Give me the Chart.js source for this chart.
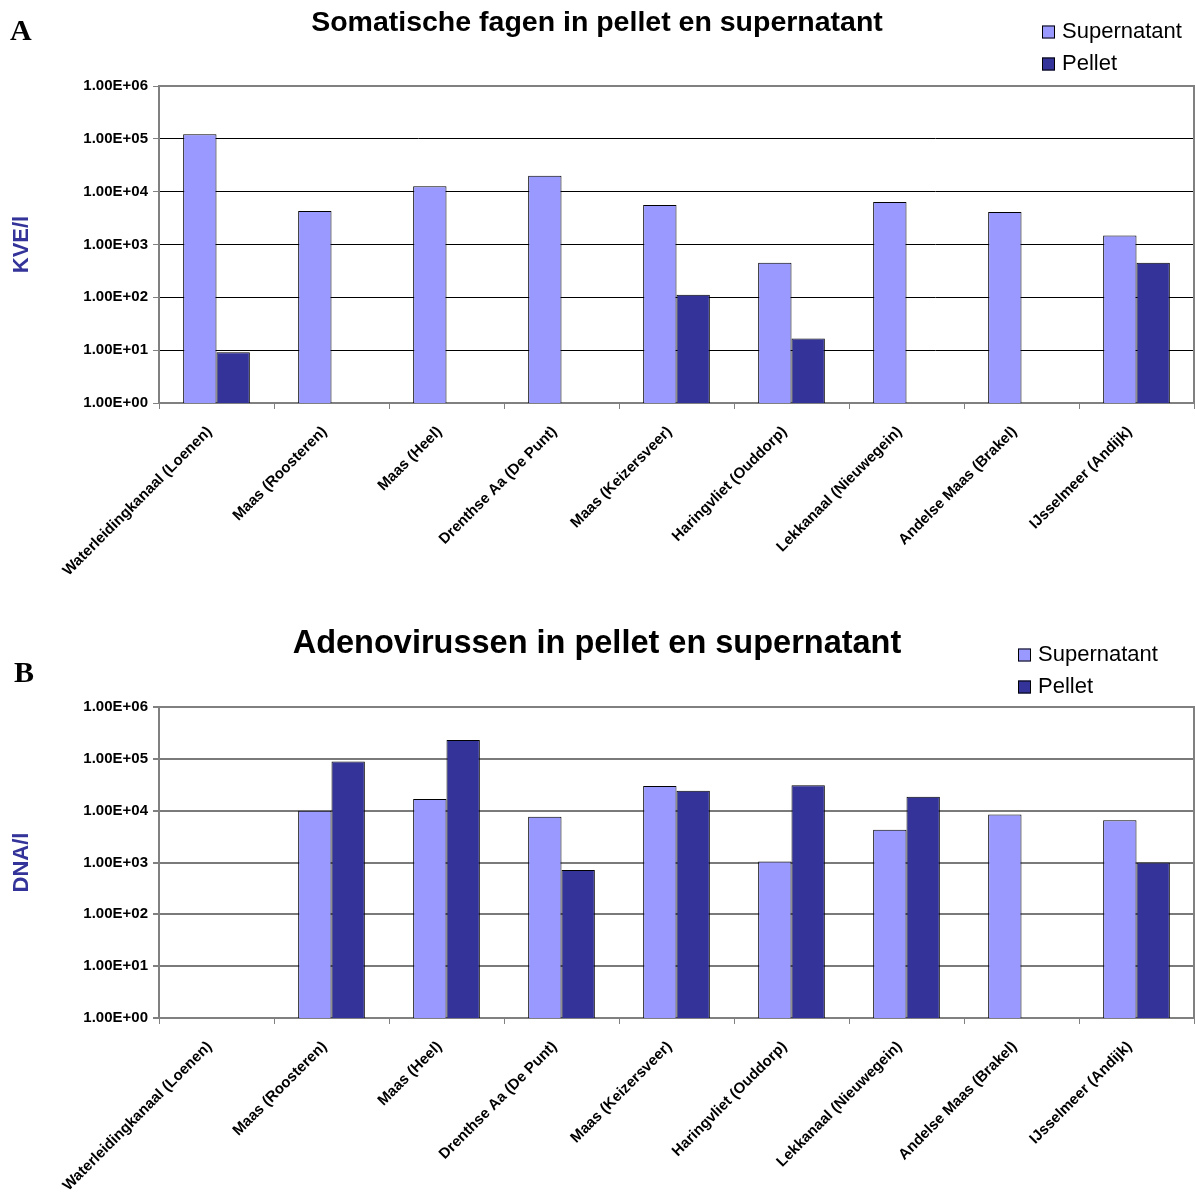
<!DOCTYPE html>
<html>
<head>
<meta charset="utf-8">
<script src="https://cdn.jsdelivr.net/npm/chart.js@4/dist/chart.umd.min.js"></script>
<style>
  html, body { margin: 0; padding: 0; background: #fff; }
  .panel { position: absolute; left: 0; width: 1195px; height: 598px; }
  #pa { top: 0; }
  #pb { top: 598px; }
</style>
</head>
<body>
<div class="panel" id="pa"><canvas id="chartA" width="1195" height="598"></canvas></div>
<div class="panel" id="pb"><canvas id="chartB" width="1195" height="598"></canvas></div>
<script>
// Sampling locations
const sites = [
  'Waterleidingkanaal (Loenen)', 'Maas (Roosteren)', 'Maas (Heel)',
  'Drenthse Aa (De Punt)', 'Maas (Keizersveer)', 'Haringvliet (Ouddorp)',
  'Lekkanaal (Nieuwegein)', 'Andelse Maas (Brakel)', 'IJsselmeer (Andijk)'
];
const seriesNames = ['Supernatant', 'Pellet'];

// Somatic phages (KVE/l)
const phageSupernatant = [1.22e5, 4.3e3, 1.27e4, 2.0e4, 5.6e3, 450, 6.4e3, 4.1e3, 1.48e3];
const phagePellet      = [9.1, null, null, null, 112, 16.6, null, null, 450];

// Adenoviruses (DNA/l)
const adenoSupernatant = [null, 1.0e4, 1.67e4, 7.6e3, 2.98e4, 1.04e3, 4.3e3, 8.4e3, 6.5e3];
const adenoPellet      = [null, 8.9e4, 2.3e5, 720, 2.42e4, 3.1e4, 1.85e4, null, 1.0e3];

// Decade ticks of the log axis
const yTickValues = [1, 10, 100, 1e3, 1e4, 1e5, 1e6];
const yTickLabels = ['1.00E+00', '1.00E+01', '1.00E+02', '1.00E+03', '1.00E+04', '1.00E+05', '1.00E+06'];

const SANS = '"Liberation Sans", Arial, Helvetica, sans-serif';
const SERIF = '"Liberation Serif", "Times New Roman", serif';
const colSuper = '#9999FF';
const colPellet = '#333399';
const axisGray = '#808080';

// Gray frame on the top and right side of the plot area
const frame = {
  id: 'frame',
  afterDatasetsDraw(chart, args, o) {
    const { ctx, chartArea: a } = chart;
    ctx.save();
    ctx.strokeStyle = o.color;
    ctx.lineWidth = o.width;
    ctx.beginPath();
    ctx.moveTo(a.left, a.top);
    ctx.lineTo(a.right, a.top);
    ctx.lineTo(a.right, a.bottom);
    ctx.stroke();
    ctx.restore();
  }
};

// Stacked legend at the upper right
const stackLegend = {
  id: 'stackLegend',
  afterDraw(chart, args, o) {
    const ctx = chart.ctx;
    ctx.save();
    ctx.font = o.font;
    ctx.textBaseline = 'middle';
    ctx.textAlign = 'left';
    chart.data.datasets.forEach((ds, i) => {
      const cy = o.y + i * o.gap;
      ctx.fillStyle = ds.backgroundColor;
      ctx.fillRect(o.x, cy - o.box / 2, o.box, o.box);
      ctx.strokeStyle = '#000';
      ctx.lineWidth = 1;
      ctx.strokeRect(o.x + 0.5, cy - o.box / 2 + 0.5, o.box - 1, o.box - 1);
      ctx.fillStyle = '#000';
      ctx.fillText(ds.label, o.x + o.box + o.textGap, cy);
    });
    ctx.restore();
  }
};

// Panel letter in the upper left corner
const panelLetter = {
  id: 'panelLetter',
  afterDraw(chart, args, o) {
    const ctx = chart.ctx;
    ctx.save();
    ctx.font = o.font;
    ctx.fillStyle = '#000';
    ctx.textBaseline = 'alphabetic';
    ctx.fillText(o.text, o.x, o.y);
    ctx.restore();
  }
};

function makeChart(id, cfg) {
  return new Chart(document.getElementById(id), {
    type: 'bar',
    data: {
      labels: sites,
      datasets: [
        { label: seriesNames[0], data: cfg.supernatant, backgroundColor: colSuper,
          borderColor: '#000', borderWidth: 1 },
        { label: seriesNames[1], data: cfg.pellet, backgroundColor: colPellet,
          borderColor: '#000', borderWidth: 1 }
      ]
    },
    plugins: [frame, stackLegend, panelLetter],
    options: {
      responsive: false,
      animation: false,
      events: [],
      datasets: { bar: { categoryPercentage: 0.58, barPercentage: 1.0 } },
      layout: { padding: { left: 0, right: 1, top: 0, bottom: 0 } },
      scales: {
        x: {
          offset: true,
          grid: { display: true, offset: true, drawOnChartArea: false, drawTicks: true,
                  tickLength: 6, color: axisGray, lineWidth: 1 },
          border: { color: axisGray, width: 2 },
          ticks: { autoSkip: false, minRotation: 45, maxRotation: 45, padding: 14, labelOffset: -7,
                   color: '#000', font: { family: SANS, size: 15, weight: 'bold' } },
          afterFit: s => { s.height = cfg.xAxisHeight; }
        },
        y: {
          type: 'logarithmic',
          min: yTickValues[0],
          max: yTickValues[yTickValues.length - 1],
          afterBuildTicks: s => { s.ticks = yTickValues.map(v => ({ value: v })); },
          grid: { color: cfg.gridColor, lineWidth: cfg.gridWidth, tickColor: axisGray,
                  tickLength: 6, drawTicks: true },
          border: { color: axisGray, width: 2 },
          ticks: { color: '#000', padding: 5, font: { family: SANS, size: 15, weight: 'bold' },
                   callback: (v, i) => yTickLabels[i] },
          title: { display: true, text: cfg.yTitle, color: '#333399',
                   font: { family: SANS, size: 22, weight: 'bold' }, padding: { top: 9, bottom: 0 } },
          afterFit: s => { s.width = 159; }
        }
      },
      plugins: {
        legend: { display: false },
        tooltip: { enabled: false },
        title: { display: true, text: cfg.title, color: '#000',
                 font: { family: SANS, size: cfg.titleSize, weight: 'bold', lineHeight: 1.2 },
                 padding: cfg.titlePad },
        frame: { color: axisGray, width: 2 },
        stackLegend: { x: cfg.legendX, y: cfg.legendY, gap: 32, box: 13, textGap: 7,
                       font: '22px ' + SANS },
        panelLetter: { text: cfg.letter, x: cfg.letterX, y: cfg.letterY, font: 'bold 30px ' + SERIF }
      }
    }
  });
}

makeChart('chartA', {
  title: 'Somatische fagen in pellet en supernatant',
  titleSize: 28.5, titlePad: { top: 6.5, bottom: 45.3 },
  yTitle: 'KVE/l',
  supernatant: phageSupernatant, pellet: phagePellet,
  xAxisHeight: 195, gridColor: '#000', gridWidth: 1,
  legendX: 1042, legendY: 32, letter: 'A', letterX: 10, letterY: 40
});

makeChart('chartB', {
  title: 'Adenovirussen in pellet en supernatant',
  titleSize: 32.5, titlePad: { top: 26.5, bottom: 43.5 },
  yTitle: 'DNA/l',
  supernatant: adenoSupernatant, pellet: adenoPellet,
  xAxisHeight: 178, gridColor: '#7a7a7a', gridWidth: 2,
  legendX: 1018, legendY: 57, letter: 'B', letterX: 14, letterY: 84
});
</script>
</body>
</html>
